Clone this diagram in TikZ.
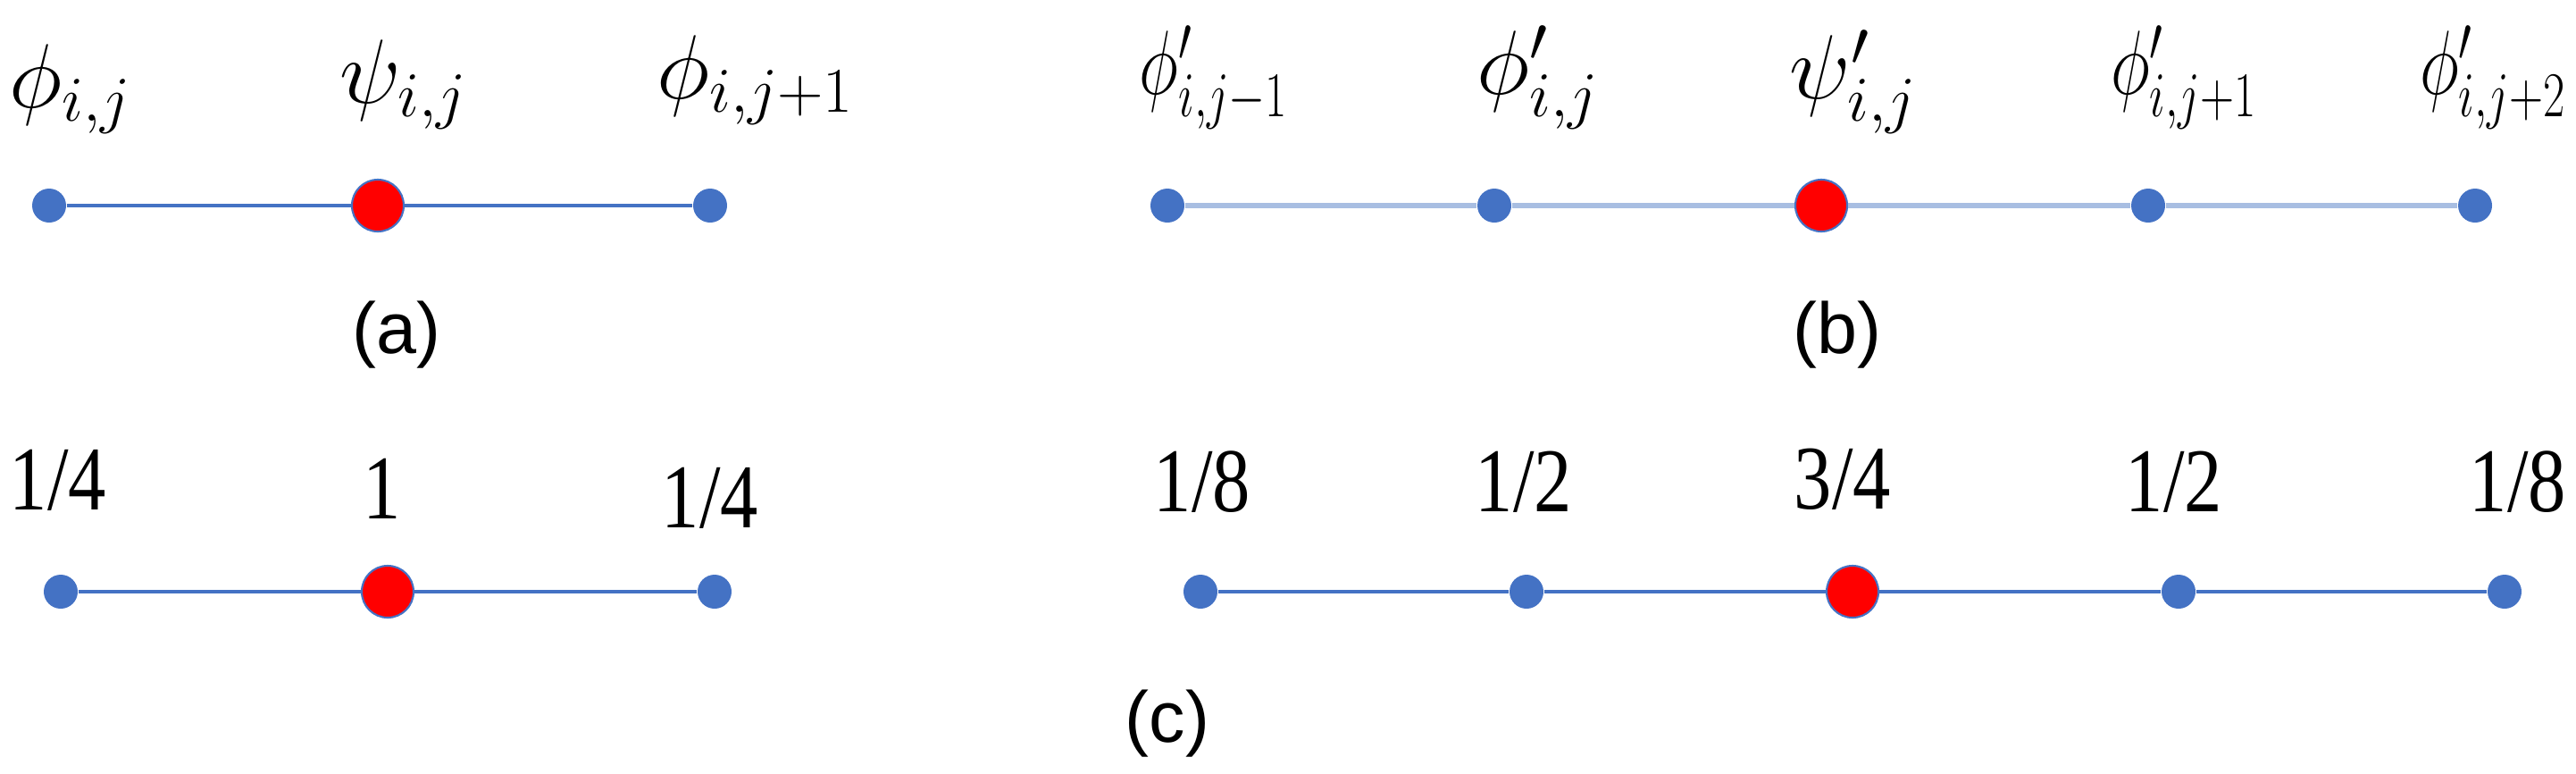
\RequirePackage{fix-cm}
\documentclass[tikz,border=0pt]{standalone}
\usepackage{amsmath}
\usepackage{graphicx}
\usepackage{fontspec}
\setsansfont{Liberation Sans}
\newfontfamily\narrowserif[FakeStretch=0.83]{Liberation Serif}
\usetikzlibrary{positioning}
\definecolor{dotblue}{HTML}{4472C4}
\definecolor{paleblue}{HTML}{A8BEE2}
\newcommand{\Narrow}[1]{\scalebox{0.74}[1]{#1}}
\tikzset{
    site/.style={circle, fill=dotblue, inner sep=0pt, minimum size=0.38cm},
    centre/.style={circle, fill=red, draw=dotblue, line width=0.6pt, inner sep=0pt, minimum size=0.58cm},
    link/.style={draw=dotblue, line width=0.9pt},
    palelink/.style={draw=paleblue, line width=1.5pt},
    sym/.style={font=\fontsize{29}{30}\selectfont, inner sep=0pt, anchor=base},
    wt/.style={font=\fontsize{29}{30}\selectfont\narrowserif, inner sep=0pt, anchor=base},
    tag/.style={font=\fontsize{23}{24}\selectfont\sffamily, inner sep=0pt, anchor=center},
}
\begin{document}
\begin{tikzpicture}
    \tikzset{
      node distance=3.66cm,
      on grid
    }
    \useasboundingbox (0,0) rectangle (28.84,-8.65);

    \node[site] (a0) at (0.55,-2.30) {};
    \node[centre, right=3.68cm of a0] (a1) {};
    \node[site, right=3.72cm of a1] (a2) {};

    \draw[link] (a0) -- (a1) -- (a2);

    \node[above=1.10cm of a0, sym, xshift=0.24cm] (la0) {$\phi_{i,j}$};
    \node[above=1.15cm of a1, sym, xshift=0.29cm] (la1) {$\psi_{i,j}$};
    \node[above=1.20cm of a2, sym, xshift=0.51cm] (la2) {$\phi_{i,j+1}$};
    \node[below=1.45cm of a1, tag, xshift=0.21cm] (capa) {(a)};

    \node[site] (b0) at (13.07,-2.30) {};
    \node[site, right=of b0] (b1) {};
    \node[centre, right=of b1] (b2) {};
    \node[site, right=of b2] (b3) {};
    \node[site, right=of b3] (b4) {};

    \draw[palelink] (b0) -- (b1) -- (b2) -- (b3) -- (b4);

    \node[above=1.25cm of b0, sym, xshift=0.52cm] (lb0) {\Narrow{$\phi'_{i,j-1}$}};
    \node[above=1.25cm of b1, sym, xshift=0.49cm] (lb1) {$\phi'_{i,j}$};
    \node[above=1.20cm of b2, sym, xshift=0.36cm] (lb2) {$\psi'_{i,j}$};
    \node[above=1.25cm of b3, sym, xshift=0.40cm] (lb3) {\Narrow{$\phi'_{i,j+1}$}};
    \node[above=1.25cm of b4, sym, xshift=0.20cm] (lb4) {\Narrow{$\phi'_{i,j+2}$}};
    \node[below=1.45cm of b2, tag, xshift=0.18cm] (capb) {(b)};

    \node[site] (c0) at (0.68,-6.62) {};
    \node[centre, right=of c0] (c1) {};
    \node[site, right=of c1] (c2) {};

    \draw[link] (c0) -- (c1) -- (c2);

    \node[above=0.92cm of c0, wt, xshift=-0.03cm] (wc0) {1/4};
    \node[above=0.82cm of c1, wt, xshift=-0.06cm] (wc1) {1};
    \node[above=0.72cm of c2, wt, xshift=-0.05cm] (wc2) {1/4};

    \node[site] (d0) at (13.44,-6.62) {};
    \node[site, right=3.65cm of d0] (d1) {};
    \node[centre, right=3.65cm of d1] (d2) {};
    \node[site, right=3.65cm of d2] (d3) {};
    \node[site, right=3.65cm of d3] (d4) {};

    \draw[link] (d0) -- (d1) -- (d2) -- (d3) -- (d4);

    \node[above=0.90cm of d0, wt, xshift=0.02cm] (wd0) {1/8};
    \node[above=0.90cm of d1, wt, xshift=-0.03cm] (wd1) {1/2};
    \node[above=0.93cm of d2, wt, xshift=-0.11cm] (wd2) {3/4};
    \node[above=0.90cm of d3, wt, xshift=-0.05cm] (wd3) {1/2};
    \node[above=0.90cm of d4, wt, xshift=0.15cm] (wd4) {1/8};
    \node[below=1.48cm of d0, tag, xshift=-0.37cm] (capc) {(c)};
\end{tikzpicture}
\end{document}
